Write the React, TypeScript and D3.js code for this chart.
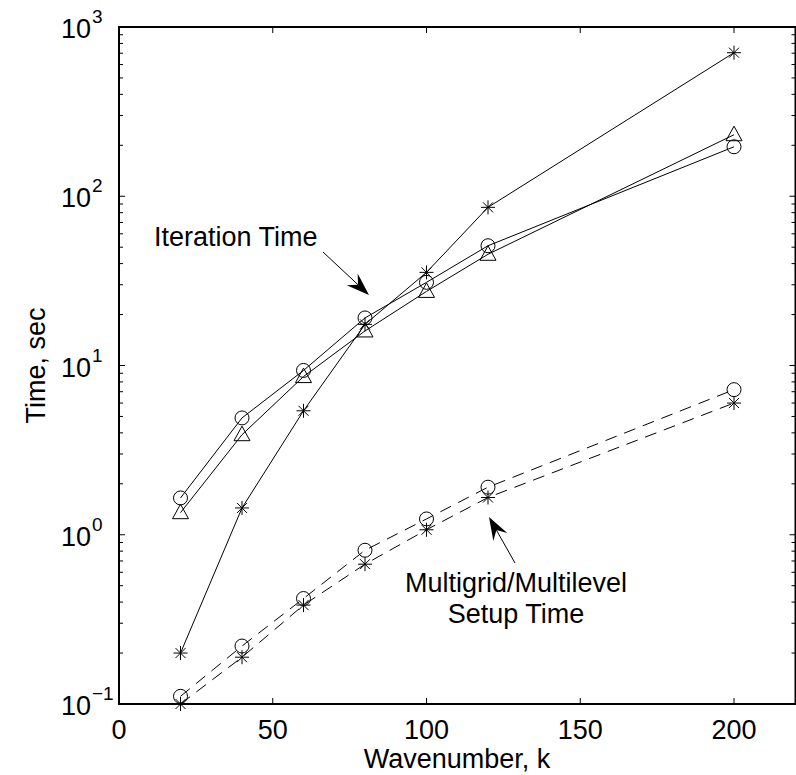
import React from 'react';
import * as d3 from 'd3';

// wavenumber k
const waveNumbers = [20, 40, 60, 80, 100, 120, 200];
// iteration time (solid lines)
const iterStar = [0.2, 1.44, 5.4, 17.5, 35.5, 86, 705];
const iterCircle = [1.65, 4.9, 9.35, 19.1, 31, 51, 196];
const iterTriangle = [1.35, 3.9, 8.6, 16, 27.4, 45.4, 231];
// multigrid/multilevel setup time (dashed lines)
const setupCircle = [0.111, 0.22, 0.42, 0.81, 1.24, 1.91, 7.2];
const setupStar = [0.1, 0.189, 0.384, 0.67, 1.07, 1.66, 6.0];

const xTicks = [0, 50, 100, 150, 200];
const yExponents = [-1, 0, 1, 2, 3];

const series = [
  { values: iterStar, marker: 'star', dashed: false },
  { values: iterCircle, marker: 'circle', dashed: false },
  { values: iterTriangle, marker: 'triangle', dashed: false },
  { values: setupCircle, marker: 'circle', dashed: true },
  { values: setupStar, marker: 'star', dashed: true },
];

const W = 796, H = 775;
const left = 119, right = 795.5, top = 27, bottom = 704;
const font = '"Liberation Sans", Arial, Helvetica, sans-serif';

const x = d3.scaleLinear().domain([0, 220]).range([left, right]);
const y = d3.scaleLog().domain([0.1, 1000]).range([bottom, top]);

const Marker = ({ type, cx, cy }: { type: string; cx: number; cy: number }) => {
  if (type === 'circle') {
    return <circle cx={cx} cy={cy} r={7} fill="none" stroke="#000" strokeWidth={1} />;
  }
  if (type === 'triangle') {
    return <path d={`M${cx},${cy - 8.5}L${cx + 8},${cy + 6}L${cx - 8},${cy + 6}Z`} fill="none" stroke="#000" strokeWidth={1} />;
  }
  const s = 7, d = 5;
  return (
    <path
      d={`M${cx - s},${cy}H${cx + s}M${cx},${cy - s}V${cy + s}M${cx - d},${cy - d}L${cx + d},${cy + d}M${cx - d},${cy + d}L${cx + d},${cy - d}`}
      stroke="#000"
      strokeWidth={1}
    />
  );
};

const Arrow = ({ x1, y1, x2, y2 }: { x1: number; y1: number; x2: number; y2: number }) => {
  const dx = x2 - x1, dy = y2 - y1;
  const len = Math.hypot(dx, dy);
  const ux = dx / len, uy = dy / len;
  const px = -uy, py = ux;
  const L = 23, hw = 8, notch = 15;
  const bx = x2 - ux * L, by = y2 - uy * L;
  const nx = x2 - ux * notch, ny = y2 - uy * notch;
  return (
    <g>
      <line x1={x1} y1={y1} x2={nx} y2={ny} stroke="#000" strokeWidth={1} />
      <path d={`M${x2},${y2}L${bx + px * hw},${by + py * hw}L${nx},${ny}L${bx - px * hw},${by - py * hw}Z`} fill="#000" />
    </g>
  );
};

export default function App() {
  const line = d3.line<number>()
    .x((_, i) => x(waveNumbers[i]))
    .y(v => y(v));

  const minorTicks: number[] = [];
  yExponents.slice(0, -1).forEach(e => {
    for (let m = 2; m <= 9; m++) minorTicks.push(m * Math.pow(10, e));
  });

  return (
    <svg width={W} height={H} style={{ position: 'absolute', left: 0, top: 0, background: '#fff' }} fontFamily={font}>
      <rect x={0} y={0} width={W} height={H} fill="#fff" />

      {/* ticks */}
      {xTicks.map(t => (
        <g key={'x' + t}>
          <line x1={x(t)} x2={x(t)} y1={bottom} y2={bottom - 6} stroke="#000" />
          <line x1={x(t)} x2={x(t)} y1={top} y2={top + 6} stroke="#000" />
          <text x={x(t)} y={739} textAnchor="middle" fontSize={27}>{t}</text>
        </g>
      ))}
      {yExponents.map(e => {
        const yy = y(Math.pow(10, e));
        return (
          <g key={'y' + e}>
            <line x1={left} x2={left + 6} y1={yy} y2={yy} stroke="#000" />
            <line x1={right} x2={right - 6} y1={yy} y2={yy} stroke="#000" />
            <text x={91} y={yy + 11} textAnchor="end" fontSize={27}>10</text>
            <text x={92} y={yy - 4} fontSize={19}>{e < 0 ? '\u2212' + Math.abs(e) : e}</text>
          </g>
        );
      })}
      {minorTicks.map(t => (
        <g key={'m' + t}>
          <line x1={left} x2={left + 4} y1={y(t)} y2={y(t)} stroke="#000" />
          <line x1={right} x2={right - 4} y1={y(t)} y2={y(t)} stroke="#000" />
        </g>
      ))}

      {/* data */}
      {series.map((s, i) => (
        <g key={'s' + i}>
          <path d={line(s.values) || ''} fill="none" stroke="#000" strokeWidth={1} strokeDasharray={s.dashed ? '12,8' : undefined} />
          {s.values.map((v, j) => (
            <Marker key={j} type={s.marker} cx={x(waveNumbers[j])} cy={y(v)} />
          ))}
        </g>
      ))}

      {/* axes box */}
      <rect x={left} y={top} width={right - left} height={bottom - top} fill="none" stroke="#000" strokeWidth={2} />

      {/* annotations */}
      <text x={154} y={246} fontSize={27}>Iteration Time</text>
      <Arrow x1={323} y1={252} x2={369} y2={295} />
      <text x={516} y={592} textAnchor="middle" fontSize={27}>Multigrid/Multilevel</text>
      <text x={516} y={623} textAnchor="middle" fontSize={27}>Setup Time</text>
      <Arrow x1={515} y1={563} x2={489} y2={517} />

      {/* axis labels */}
      <text x={457} y={768} textAnchor="middle" fontSize={27}>Wavenumber, k</text>
      <text transform={`translate(45,${(top + bottom) / 2}) rotate(-90)`} textAnchor="middle" fontSize={27}>Time, sec</text>
    </svg>
  );
}
